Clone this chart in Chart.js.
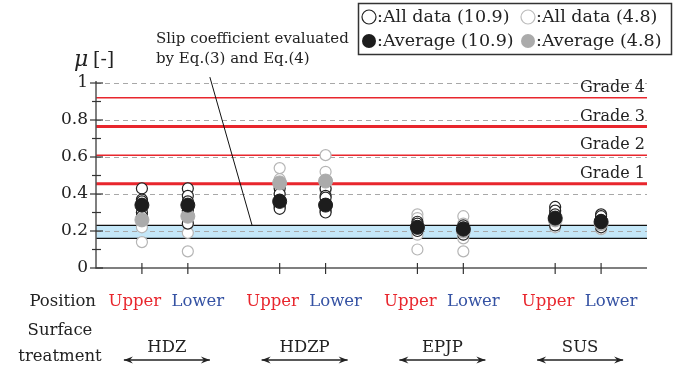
<!DOCTYPE html>
<html>
<head>
<meta charset="utf-8">
<script src="https://cdn.jsdelivr.net/npm/chart.js@4"></script>
<style>
  body { margin: 0; background: #fff; }
  canvas { display: block; }
</style>
</head>
<body>
<canvas id="slipChart" width="683" height="372"></canvas>
<script>
// x slots on the axis (two positions per surface treatment)
const xSlots = [1, 2, 4, 5, 7, 8, 10, 11];
const positions = ["Upper", "Lower", "Upper", "Lower", "Upper", "Lower", "Upper", "Lower"];
const treatments = ["HDZ", "HDZP", "EPJP", "SUS"];
const treatmentCenters = [1.5, 4.5, 7.5, 10.5];

// all data, bolt 10.9
const all109 = [
  [0.43, 0.37, 0.36, 0.30, 0.28],
  [0.43, 0.39, 0.36, 0.31, 0.24],
  [0.43, 0.40, 0.37, 0.34, 0.33, 0.32],
  [0.43, 0.39, 0.38, 0.31, 0.30],
  [0.25, 0.24, 0.22, 0.20],
  [0.23, 0.22, 0.20, 0.18],
  [0.33, 0.31, 0.29, 0.26, 0.23],
  [0.29, 0.28, 0.26, 0.24, 0.22],
];
const avg109 = [0.34, 0.34, 0.36, 0.34, 0.22, 0.21, 0.27, 0.25];

// all data, bolt 4.8
const all48 = [
  [0.30, 0.27, 0.25, 0.22, 0.14],
  [0.31, 0.28, 0.24, 0.19, 0.09],
  [0.54, 0.48, 0.45, 0.44, 0.40],
  [0.61, 0.52, 0.47, 0.43, 0.42],
  [0.29, 0.27, 0.23, 0.18, 0.10],
  [0.28, 0.24, 0.21, 0.16, 0.09],
  [0.30, 0.26, 0.22],
  [0.27, 0.23, 0.21],
];
const avg48 = [0.26, 0.28, 0.46, 0.47, 0.22, 0.20, 0.26, 0.24];

// slip coefficient grades and the evaluated band
const gradeNames = ["Grade 4", "Grade 3", "Grade 2", "Grade 1"];
const gradeValues = [0.92, 0.765, 0.61, 0.455];
const gradeWidths = [1.5, 3, 1.5, 3];
const bandRange = [0.16, 0.23];
const yTicks = [0, 0.2, 0.4, 0.6, 0.8, 1];
const leaderLine = [{ x: 2.48, y: 1.032 }, { x: 3.4, y: 0.23 }];

const SERIF = "'DejaVu Serif', 'Liberation Serif', serif";
const RED = "#e8262d";
const BLUE = "#3552a3";

function toPoints(groups) {
  const pts = [];
  groups.forEach((vals, i) => vals.forEach((v) => pts.push({ x: xSlots[i], y: v })));
  return pts;
}

const backgroundPlugin = {
  id: "background",
  beforeDatasetsDraw(chart) {
    const { ctx, chartArea: a, scales } = chart;
    const xs = scales.x, ys = scales.y;
    ctx.save();

    // blue band
    const bTop = ys.getPixelForValue(bandRange[1]);
    const bBot = ys.getPixelForValue(bandRange[0]);
    ctx.fillStyle = "#c4e7f8";
    ctx.fillRect(a.left, bTop, a.right - a.left, bBot - bTop);

    // dashed grid
    ctx.strokeStyle = "#a8a8a8";
    ctx.lineWidth = 1;
    ctx.setLineDash([5, 4]);
    yTicks.forEach((t) => {
      if (t === 0) return;
      const y = Math.round(ys.getPixelForValue(t)) + 0.5;
      ctx.beginPath();
      ctx.moveTo(a.left, y);
      ctx.lineTo(a.right, y);
      ctx.stroke();
    });
    ctx.setLineDash([]);

    // band edges
    ctx.strokeStyle = "#111";
    ctx.lineWidth = 1.3;
    [bTop, bBot].forEach((y) => {
      ctx.beginPath();
      ctx.moveTo(a.left, y);
      ctx.lineTo(a.right, y);
      ctx.stroke();
    });

    // grade lines
    ctx.strokeStyle = RED;
    gradeValues.forEach((g, i) => {
      const y = ys.getPixelForValue(g);
      ctx.lineWidth = gradeWidths[i];
      ctx.beginPath();
      ctx.moveTo(a.left, y);
      ctx.lineTo(a.right, y);
      ctx.stroke();
    });

    // leader line of the note
    ctx.strokeStyle = "#111";
    ctx.lineWidth = 1;
    ctx.beginPath();
    ctx.moveTo(xs.getPixelForValue(leaderLine[0].x), ys.getPixelForValue(leaderLine[0].y));
    ctx.lineTo(xs.getPixelForValue(leaderLine[1].x), ys.getPixelForValue(leaderLine[1].y));
    ctx.stroke();

    // axes
    ctx.strokeStyle = "#555";
    ctx.lineWidth = 1.5;
    ctx.beginPath();
    ctx.moveTo(a.left, a.top - 2);
    ctx.lineTo(a.left, a.bottom);
    ctx.lineTo(a.right, a.bottom);
    ctx.stroke();

    ctx.strokeStyle = "#333";
    ctx.lineWidth = 1.2;
    for (let v = 0; v <= 10; v++) {
      const y = ys.getPixelForValue(v / 10);
      const major = v % 2 === 0;
      ctx.beginPath();
      ctx.moveTo(a.left - (major ? 6 : 4), y);
      ctx.lineTo(a.left + (major ? 7 : 5), y);
      ctx.stroke();
    }
    xSlots.forEach((s) => {
      const x = xs.getPixelForValue(s);
      ctx.beginPath();
      ctx.moveTo(x, a.bottom - 5);
      ctx.lineTo(x, a.bottom + 6);
      ctx.stroke();
    });
    ctx.restore();
  },
};

function circle(ctx, x, y, r, fill, stroke) {
  ctx.beginPath();
  ctx.arc(x, y, r, 0, Math.PI * 2);
  ctx.fillStyle = fill;
  ctx.fill();
  if (stroke) {
    ctx.strokeStyle = stroke;
    ctx.lineWidth = 1.2;
    ctx.stroke();
  }
}

function arrow(ctx, x1, x2, y) {
  ctx.beginPath();
  ctx.moveTo(x1, y);
  ctx.lineTo(x2, y);
  ctx.stroke();
  [[x1, 1], [x2, -1]].forEach(([x, d]) => {
    ctx.beginPath();
    ctx.moveTo(x, y);
    ctx.lineTo(x + d * 9, y - 3.5);
    ctx.lineTo(x + d * 6, y);
    ctx.lineTo(x + d * 9, y + 3.5);
    ctx.closePath();
    ctx.fill();
  });
}

const textPlugin = {
  id: "texts",
  afterDraw(chart) {
    const { ctx, chartArea: a, scales } = chart;
    const xs = scales.x, ys = scales.y;
    ctx.save();
    ctx.textBaseline = "middle";

    // grade labels
    ctx.fillStyle = "#222";
    ctx.font = "16px " + SERIF;
    ctx.textAlign = "right";
    gradeValues.forEach((g, i) => {
      ctx.fillText(gradeNames[i], a.right - 2, ys.getPixelForValue(g) - 10);
    });

    // axis title
    ctx.textAlign = "left";
    ctx.font = "italic 22px " + SERIF;
    ctx.fillText("\u03bc", 74, 60);
    ctx.font = "19px " + SERIF;
    ctx.fillText("[-]", 93, 60);

    // note
    ctx.font = "15px " + SERIF;
    ctx.fillText("Slip coefficient evaluated", 156, 39);
    ctx.fillText("by Eq.(3) and Eq.(4)", 156, 59);

    // legend box
    ctx.strokeStyle = "#333";
    ctx.lineWidth = 1.5;
    ctx.strokeRect(358.5, 3.5, 313, 51);
    circle(ctx, 369, 17, 7, "#fff", "#222");
    circle(ctx, 369, 41, 7, "#1d1d1d");
    circle(ctx, 528, 17, 7, "#fff", "#bdbdbd");
    circle(ctx, 528, 41, 7, "#ababab");
    ctx.font = "17.5px " + SERIF;
    ctx.fillStyle = "#222";
    ctx.fillText(":All data (10.9)", 377, 17);
    ctx.fillText(":Average (10.9)", 377, 41);
    ctx.fillText(":All data (4.8)", 536, 17);
    ctx.fillText(":Average (4.8)", 536, 41);

    // position row
    const rowY = 302;
    ctx.font = "16.5px " + SERIF;
    ctx.textAlign = "right";
    ctx.fillStyle = "#222";
    ctx.fillText("Position", 96, rowY);
    ctx.textAlign = "center";
    xSlots.forEach((s, i) => {
      const up = positions[i] === "Upper";
      ctx.fillStyle = up ? RED : BLUE;
      ctx.fillText(positions[i], xs.getPixelForValue(s) + (up ? -7 : 10), rowY);
    });

    // surface treatment row
    ctx.fillStyle = "#222";
    ctx.fillText("Surface", 60, 331);
    ctx.fillText("treatment", 60, 357);
    ctx.strokeStyle = "#222";
    ctx.lineWidth = 1.3;
    treatmentCenters.forEach((c, i) => {
      const x = xs.getPixelForValue(c) + 2;
      ctx.fillText(treatments[i], x, 348);
      arrow(ctx, x - 43, x + 43, 360);
    });
    ctx.restore();
  },
};

new Chart(document.getElementById("slipChart"), {
  type: "scatter",
  data: {
    datasets: [
      {
        label: "Average (10.9)",
        data: avg109.map((v, i) => ({ x: xSlots[i], y: v })),
        backgroundColor: "#1d1d1d",
        borderColor: "#1d1d1d",
        pointRadius: 7,
        order: 0,
      },
      {
        label: "Average (4.8)",
        data: avg48.map((v, i) => ({ x: xSlots[i], y: v })),
        backgroundColor: "#ababab",
        borderColor: "#ababab",
        pointRadius: 7,
        order: 1,
      },
      {
        label: "All data (10.9)",
        data: toPoints(all109),
        backgroundColor: "#fff",
        borderColor: "#222",
        borderWidth: 1.2,
        pointRadius: 5.5,
        order: 2,
      },
      {
        label: "All data (4.8)",
        data: toPoints(all48),
        backgroundColor: "#fff",
        borderColor: "#b5b5b5",
        borderWidth: 1.2,
        pointRadius: 5.5,
        order: 3,
      },
    ],
  },
  options: {
    responsive: false,
    animation: false,
    layout: { padding: { left: 0, top: 83, right: 36, bottom: 0 } },
    plugins: { legend: { display: false }, tooltip: { enabled: false } },
    scales: {
      x: {
        type: "linear",
        min: 0,
        max: 12,
        grid: { display: false },
        border: { display: false },
        ticks: { display: false },
        afterFit: (scale) => { scale.height = 104; },
      },
      y: {
        min: 0,
        max: 1,
        grid: { display: false, drawTicks: false },
        border: { display: false },
        afterBuildTicks: (scale) => { scale.ticks = yTicks.map((v) => ({ value: v })); },
        ticks: {
          padding: 8,
          color: "#222",
          font: { family: SERIF, size: 17 },
          callback: (v) => String(v),
        },
        afterFit: (scale) => { scale.width = 96; },
      },
    },
  },
  plugins: [backgroundPlugin, textPlugin],
});
</script>
</body>
</html>
